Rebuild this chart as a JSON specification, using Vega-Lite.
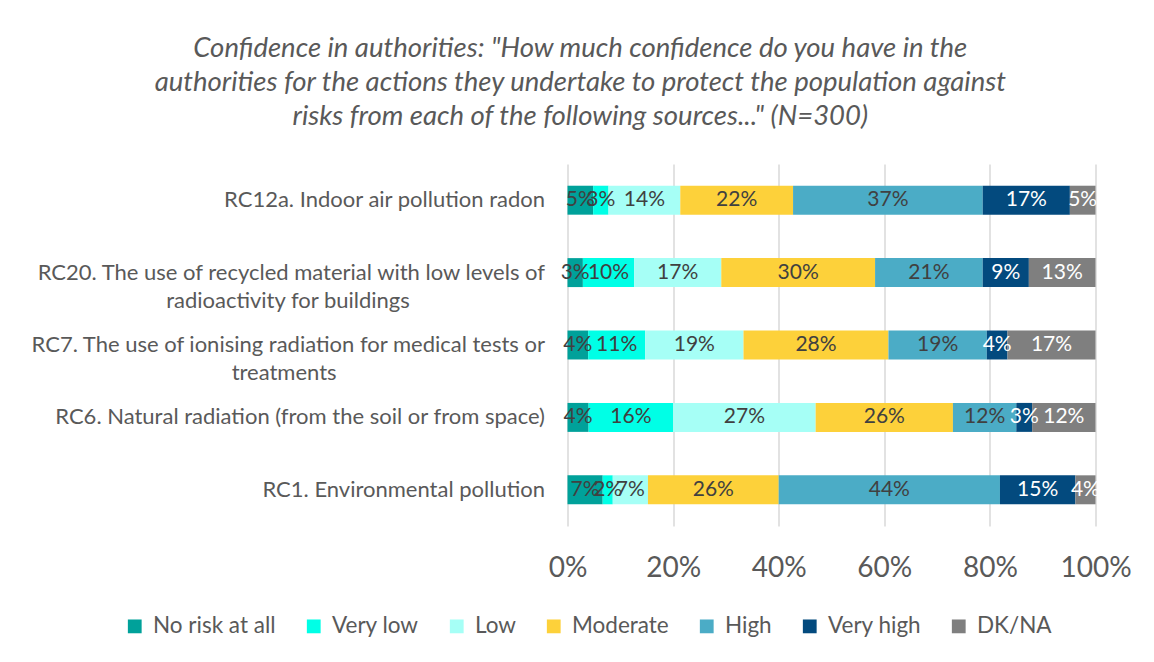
{
  "$schema": "https://vega.github.io/schema/vega-lite/v6.json",
  "width": 528,
  "height": 362,
  "autosize": {"type": "none"},
  "padding": {"left": 567.5, "top": 164, "right": 58.5, "bottom": 136},
  "background": "white",
  "config": {"view": {"stroke": null}},
  "title": {
    "text": [
      "Confidence in authorities: \"How much confidence do you have in the",
      "authorities for the actions they undertake to protect the population against",
      "risks from each of the following sources...\" (N=300)"
    ],
    "anchor": "middle",
    "frame": "bounds",
    "fontSize": 27.5,
    "lineHeight": 34,
    "font": "Lato",
    "fontWeight": "normal",
    "fontStyle": "italic",
    "color": "#595959",
    "offset": 34
  },
  "data": {
    "values": [
      {"item": "RC12a. Indoor air pollution radon", "level": "No risk at all", "ord": 1, "v": 0.05},
      {"item": "RC12a. Indoor air pollution radon", "level": "Very low", "ord": 2, "v": 0.03},
      {"item": "RC12a. Indoor air pollution radon", "level": "Low", "ord": 3, "v": 0.14},
      {"item": "RC12a. Indoor air pollution radon", "level": "Moderate", "ord": 4, "v": 0.22},
      {"item": "RC12a. Indoor air pollution radon", "level": "High", "ord": 5, "v": 0.37},
      {"item": "RC12a. Indoor air pollution radon", "level": "Very high", "ord": 6, "v": 0.17},
      {"item": "RC12a. Indoor air pollution radon", "level": "DK/NA", "ord": 7, "v": 0.05},
      {"item": "RC20. The use of recycled material with low levels of radioactivity for buildings", "level": "No risk at all", "ord": 1, "v": 0.03},
      {"item": "RC20. The use of recycled material with low levels of radioactivity for buildings", "level": "Very low", "ord": 2, "v": 0.10},
      {"item": "RC20. The use of recycled material with low levels of radioactivity for buildings", "level": "Low", "ord": 3, "v": 0.17},
      {"item": "RC20. The use of recycled material with low levels of radioactivity for buildings", "level": "Moderate", "ord": 4, "v": 0.30},
      {"item": "RC20. The use of recycled material with low levels of radioactivity for buildings", "level": "High", "ord": 5, "v": 0.21},
      {"item": "RC20. The use of recycled material with low levels of radioactivity for buildings", "level": "Very high", "ord": 6, "v": 0.09},
      {"item": "RC20. The use of recycled material with low levels of radioactivity for buildings", "level": "DK/NA", "ord": 7, "v": 0.13},
      {"item": "RC7. The use of ionising radiation for medical tests or treatments", "level": "No risk at all", "ord": 1, "v": 0.04},
      {"item": "RC7. The use of ionising radiation for medical tests or treatments", "level": "Very low", "ord": 2, "v": 0.11},
      {"item": "RC7. The use of ionising radiation for medical tests or treatments", "level": "Low", "ord": 3, "v": 0.19},
      {"item": "RC7. The use of ionising radiation for medical tests or treatments", "level": "Moderate", "ord": 4, "v": 0.28},
      {"item": "RC7. The use of ionising radiation for medical tests or treatments", "level": "High", "ord": 5, "v": 0.19},
      {"item": "RC7. The use of ionising radiation for medical tests or treatments", "level": "Very high", "ord": 6, "v": 0.04},
      {"item": "RC7. The use of ionising radiation for medical tests or treatments", "level": "DK/NA", "ord": 7, "v": 0.17},
      {"item": "RC6. Natural radiation (from the soil or from space)", "level": "No risk at all", "ord": 1, "v": 0.04},
      {"item": "RC6. Natural radiation (from the soil or from space)", "level": "Very low", "ord": 2, "v": 0.16},
      {"item": "RC6. Natural radiation (from the soil or from space)", "level": "Low", "ord": 3, "v": 0.27},
      {"item": "RC6. Natural radiation (from the soil or from space)", "level": "Moderate", "ord": 4, "v": 0.26},
      {"item": "RC6. Natural radiation (from the soil or from space)", "level": "High", "ord": 5, "v": 0.12},
      {"item": "RC6. Natural radiation (from the soil or from space)", "level": "Very high", "ord": 6, "v": 0.03},
      {"item": "RC6. Natural radiation (from the soil or from space)", "level": "DK/NA", "ord": 7, "v": 0.12},
      {"item": "RC1. Environmental pollution", "level": "No risk at all", "ord": 1, "v": 0.07},
      {"item": "RC1. Environmental pollution", "level": "Very low", "ord": 2, "v": 0.02},
      {"item": "RC1. Environmental pollution", "level": "Low", "ord": 3, "v": 0.07},
      {"item": "RC1. Environmental pollution", "level": "Moderate", "ord": 4, "v": 0.26},
      {"item": "RC1. Environmental pollution", "level": "High", "ord": 5, "v": 0.44},
      {"item": "RC1. Environmental pollution", "level": "Very high", "ord": 6, "v": 0.15},
      {"item": "RC1. Environmental pollution", "level": "DK/NA", "ord": 7, "v": 0.04}
    ]
  },
  "encoding": {
    "y": {
      "field": "item",
      "type": "nominal",
      "sort": [
        "RC12a. Indoor air pollution radon",
        "RC20. The use of recycled material with low levels of radioactivity for buildings",
        "RC7. The use of ionising radiation for medical tests or treatments",
        "RC6. Natural radiation (from the soil or from space)",
        "RC1. Environmental pollution"
      ],
      "scale": {"paddingInner": 0.6, "paddingOuter": 0.3},
      "axis": {
        "title": null,
        "domain": false,
        "ticks": false,
        "labelFont": "Lato",
        "labelFontSize": 22,
        "labelColor": "#595959",
        "labelPadding": 23,
        "labelLimit": 0,
        "labelLineHeight": 28,
        "labelExpr": "datum.value == 'RC20. The use of recycled material with low levels of radioactivity for buildings' ? ['RC20. The use of recycled material with low levels of', 'radioactivity for buildings\u00a0\u00a0\u00a0\u00a0\u00a0\u00a0\u00a0\u00a0\u00a0\u00a0\u00a0\u00a0\u00a0\u00a0\u00a0\u00a0\u00a0\u00a0\u00a0\u00a0\u00a0\u00a0\u00a0\u00a0\u200b'] : datum.value == 'RC7. The use of ionising radiation for medical tests or treatments' ? ['RC7. The use of ionising radiation for medical tests or', 'treatments\u00a0\u00a0\u00a0\u00a0\u00a0\u00a0\u00a0\u00a0\u00a0\u00a0\u00a0\u00a0\u00a0\u00a0\u00a0\u00a0\u00a0\u00a0\u00a0\u00a0\u00a0\u00a0\u00a0\u00a0\u00a0\u00a0\u00a0\u00a0\u00a0\u00a0\u00a0\u00a0\u00a0\u00a0\u00a0\u00a0\u00a0\u200b'] : datum.label"
      }
    },
    "x": {
      "field": "v",
      "type": "quantitative",
      "stack": "normalize",
      "scale": {"domain": [0, 1]},
      "axis": {
        "title": null,
        "format": ".0%",
        "values": [0, 0.2, 0.4, 0.6, 0.8, 1],
        "domain": false,
        "ticks": false,
        "grid": true,
        "gridColor": "#D9D9D9",
        "gridWidth": 1.5,
        "labelFont": "Lato",
        "labelFontSize": 28,
        "labelColor": "#595959",
        "labelPadding": 28,
        "labelFlush": false
      }
    },
    "order": {"field": "ord", "type": "quantitative"}
  },
  "layer": [
    {
      "mark": {"type": "bar"},
      "encoding": {
        "color": {
          "field": "level",
          "type": "nominal",
          "sort": ["No risk at all", "Very low", "Low", "Moderate", "High", "Very high", "DK/NA"],
          "scale": {
            "domain": ["No risk at all", "Very low", "Low", "Moderate", "High", "Very high", "DK/NA"],
            "range": ["#00A19A", "#00FFE6", "#A6FFF6", "#FDD13A", "#4BACC6", "#034A7E", "#7F7F7F"]
          },
          "legend": {
            "title": null,
            "orient": "none",
            "direction": "horizontal",
            "legendX": -444,
            "legendY": 451,
            "padding": 0,
            "symbolType": "square",
            "symbolSize": 190,
            "symbolStrokeWidth": 0,
            "labelFont": "Lato",
            "labelFontSize": 22.5,
            "labelColor": "#595959",
            "labelOffset": 7,
            "columnPadding": 26,
            "labelLimit": 0
          }
        }
      }
    },
    {
      "mark": {"type": "text", "font": "Lato", "fontSize": 21},
      "encoding": {
        "x": {"field": "v", "type": "quantitative", "stack": "normalize", "bandPosition": 0.5},
        "text": {"field": "v", "type": "quantitative", "format": ".0%"},
        "color": {
          "condition": {"test": "datum.level == 'Very high' || datum.level == 'DK/NA'", "value": "white"},
          "value": "#404040"
        }
      }
    }
  ]
}
